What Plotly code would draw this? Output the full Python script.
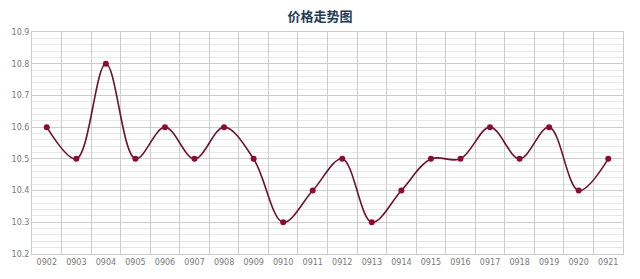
import plotly.graph_objects as go

categories = ["0902", "0903", "0904", "0905", "0906", "0907", "0908", "0909", "0910", "0911",
              "0912", "0913", "0914", "0915", "0916", "0917", "0918", "0919", "0920", "0921"]
prices = [10.6, 10.5, 10.8, 10.5, 10.6, 10.5, 10.6, 10.5, 10.3, 10.4,
          10.5, 10.3, 10.4, 10.5, 10.5, 10.6, 10.5, 10.6, 10.4, 10.5]
y_ticks = [10.2, 10.3, 10.4, 10.5, 10.6, 10.7, 10.8, 10.9]

fig = go.Figure()
fig.add_trace(go.Scatter(
    x=categories, y=prices, mode="lines+markers",
    line=dict(color="#6e1030", width=1.6, shape="spline", smoothing=1.0),
    marker=dict(color="#8a0c35", size=6),
    hoverinfo="x+y",
))

fig.update_layout(
    width=640, height=279,
    margin=dict(l=29, r=17, t=32, b=21),
    paper_bgcolor="white", plot_bgcolor="white",
    showlegend=False,
    title=dict(text="<b>价格走势图</b>", x=0.5, xanchor="center", y=0.94, yanchor="middle",
               font=dict(family="Noto Sans CJK SC", size=13, color="#233a55")),
    font=dict(family="DejaVu Sans", size=8, color="#777777"),
)
fig.update_xaxes(
    type="category", range=[-0.5, len(categories) - 0.5],
    tickson="boundaries", showgrid=True, gridcolor="#cccccc", gridwidth=1,
    ticks="", showline=True, linecolor="#cccccc", mirror=True,
    tickfont=dict(size=8, color="#777777"), fixedrange=True,
)
fig.update_yaxes(
    range=[10.2, 10.9], tickvals=y_ticks, ticktext=[f"{v:.1f}" for v in y_ticks],
    showgrid=True, gridcolor="#cccccc", gridwidth=1, zeroline=False,
    minor=dict(dtick=0.02, showgrid=True, gridcolor="#e8e8e8", gridwidth=1),
    showline=True, linecolor="#cccccc", mirror=True,
    tickfont=dict(size=8, color="#777777"), ticks="", fixedrange=True,
)

fig.write_html("out.html")
